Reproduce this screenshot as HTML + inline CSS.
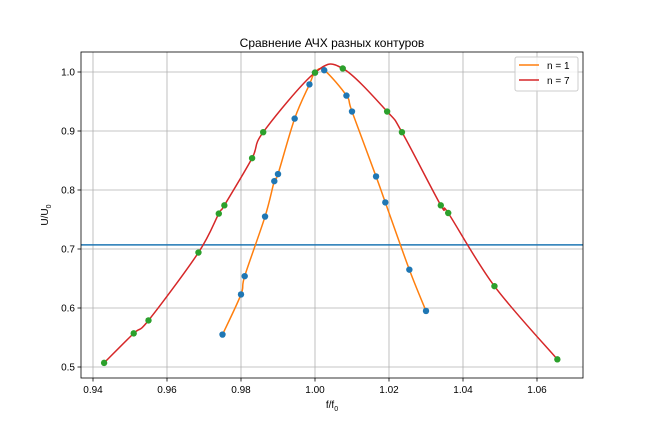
<!DOCTYPE html>
<html><head><meta charset="utf-8"><style>
body{margin:0;background:#fff;}
svg{display:block;font-family:"Liberation Sans","DejaVu Sans",sans-serif;}
</style></head><body>
<svg id="chart" width="648" height="432"></svg>
<script>
const n1X=[0.975,0.980,0.981,0.9865,0.989,0.990,0.9945,0.9985,1.0,1.0025,1.0085,1.010,1.0165,1.019,1.0255,1.030];
const n1Y=[0.555,0.623,0.654,0.755,0.815,0.827,0.921,0.979,0.999,1.003,0.960,0.933,0.823,0.779,0.665,0.595];
const n7X=[0.943,0.951,0.955,0.9685,0.974,0.9755,0.983,0.986,1.000,1.0075,1.0195,1.0235,1.034,1.036,1.0485,1.0655];
const n7Y=[0.507,0.557,0.579,0.694,0.760,0.774,0.854,0.898,0.999,1.006,0.933,0.898,0.774,0.761,0.637,0.513];
const xTicks=[0.94,0.96,0.98,1.00,1.02,1.04,1.06];
const yTicks=[0.5,0.6,0.7,0.8,0.9,1.0];
const hLine=0.707;

const NS="http://www.w3.org/2000/svg";
const svg=document.getElementById('chart');
const L=81,R=583,T=52,B=378;
const xs=v=>315+(v-1.0)/0.02*74;
const ys=v=>367-(v-0.5)/0.1*59;
function mk(tag,attrs,parent){const e=document.createElementNS(NS,tag);for(const k in attrs)e.setAttribute(k,attrs[k]);(parent||svg).appendChild(e);return e;}

const title=mk('text',{x:332,y:47,'text-anchor':'middle','font-size':12});
title.textContent='Сравнение АЧХ разных контуров';



const grid=mk('g',{});


xTicks.forEach(t=>{
  const x=xs(t);
  mk('line',{x1:x,x2:x,y1:T,y2:B,stroke:'#b0b0b0','stroke-width':0.8},grid);
  mk('line',{x1:x,x2:x,y1:B,y2:B+3.5,stroke:'#000','stroke-width':0.8});
  const tx=mk('text',{x:x,y:B+15,'text-anchor':'middle','font-size':10});
  tx.textContent=t.toFixed(2);
  
  
});
yTicks.forEach(t=>{
  const y=ys(t);
  mk('line',{x1:L,x2:R,y1:y,y2:y,stroke:'#b0b0b0','stroke-width':0.8},grid);
  mk('line',{x1:L-3.5,x2:L,y1:y,y2:y,stroke:'#000','stroke-width':0.8});
  const tx=mk('text',{x:L-6,y:y+3.5,'text-anchor':'end','font-size':10});
  tx.textContent=t.toFixed(1);
  
  
});

const hl=mk('line',{x1:L,x2:R,y1:ys(hLine),y2:ys(hLine),stroke:'#1f77b4','stroke-width':1.5});



function spline(X,Y){
  const p=X.map((x,i)=>[xs(x),ys(Y[i])]);
  let d='M'+p[0][0]+','+p[0][1];
  for(let i=0;i<p.length-1;i++){
    const p0=p[Math.max(i-1,0)],p1=p[i],p2=p[i+1],p3=p[Math.min(i+2,p.length-1)];
    const c1=[p1[0]+(p2[0]-p0[0])/6,p1[1]+(p2[1]-p0[1])/6];
    const c2=[p2[0]-(p3[0]-p1[0])/6,p2[1]-(p3[1]-p1[1])/6];
    d+=' C'+c1+' '+c2+' '+p2;
  }
  return d;
}
const l1=mk('path',{d:spline(n1X,n1Y),fill:'none',stroke:'#ff7f0e','stroke-width':1.5});


const l7=mk('path',{d:spline(n7X,n7Y),fill:'none',stroke:'#d62728','stroke-width':1.5});



n1X.forEach((x,i)=>{
  const c=mk('circle',{cx:xs(x),cy:ys(n1Y[i]),r:3.2,fill:'#1f77b4'});
  
  
});
n7X.forEach((x,i)=>{
  const c=mk('circle',{cx:xs(x),cy:ys(n7Y[i]),r:3.2,fill:'#2ca02c'});
  
  
});

const frame=mk('rect',{x:L,y:T,width:R-L,height:B-T,fill:'none',stroke:'#000','stroke-width':0.8});



const xl=mk('text',{x:332,y:408,'text-anchor':'middle','font-size':10});
xl.innerHTML='f/f<tspan font-size="7" dy="3">0</tspan>';


const yl=mk('text',{x:0,y:0,'text-anchor':'middle','font-size':10,transform:'translate(48,215) rotate(-90)'});
yl.innerHTML='U/U<tspan font-size="7" dy="3">0</tspan>';



const lg=mk('g',{});


mk('rect',{x:515,y:57,width:63,height:34,rx:2,fill:'#fff','fill-opacity':0.8,stroke:'#ccc'},lg);
[['n = 1','#ff7f0e',69],['n = 7','#d62728',84]].forEach(([t,c,y])=>{
  const e=mk('g',{},lg);
  
  
  mk('line',{x1:519,x2:539,y1:y-4,y2:y-4,stroke:c,'stroke-width':1.5},e);
  const tx=mk('text',{x:547,y:y,'font-size':10},e);
  tx.textContent=t;
});
</script>
</body></html>
